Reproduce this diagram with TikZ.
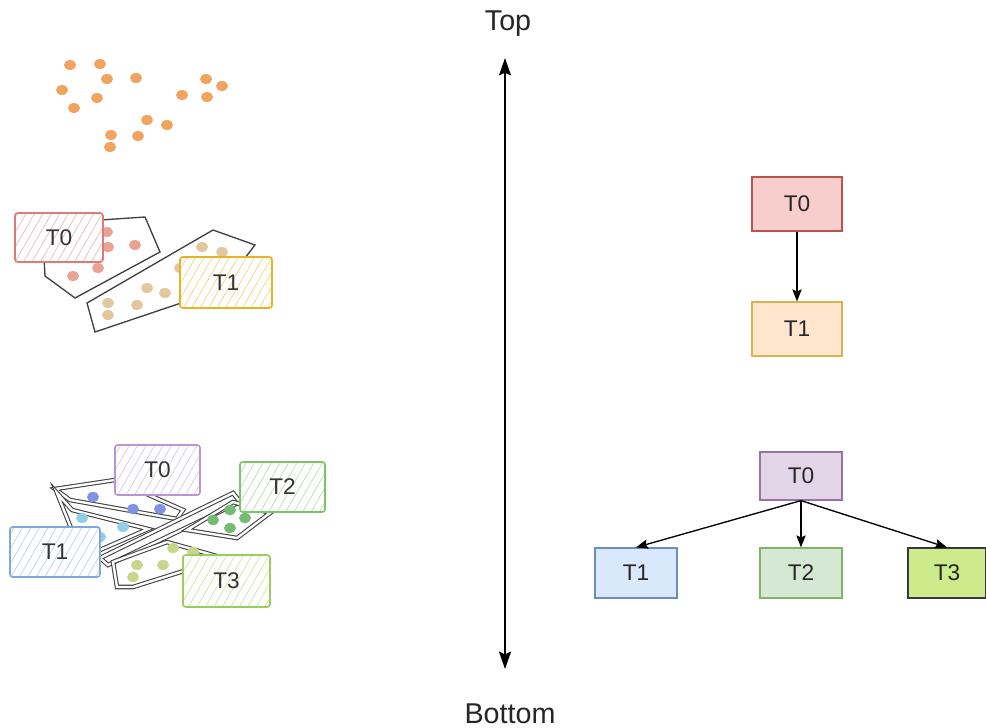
\documentclass[tikz,border=0pt]{standalone}
\usepackage{fontspec}
\setmainfont{Liberation Sans}
\usetikzlibrary{arrows.meta,patterns.meta}

% flat boxes
\definecolor{redF}{HTML}{F8CECC}\definecolor{redD}{HTML}{B85450}
\definecolor{orgF}{HTML}{FFE6CC}\definecolor{orgD}{HTML}{DDB050}
\definecolor{purF}{HTML}{E1D5E7}\definecolor{purD}{HTML}{9673A6}
\definecolor{bluF}{HTML}{DAE8FC}\definecolor{bluD}{HTML}{6C8EBF}
\definecolor{grnF}{HTML}{D5E8D4}\definecolor{grnD}{HTML}{82B366}
\definecolor{limF}{HTML}{CDEB8B}\definecolor{limD}{HTML}{36393D}
% sketch boxes and dots
\definecolor{dotO}{HTML}{F2A45F}
\definecolor{skR}{HTML}{E07A7A}\definecolor{hR}{HTML}{F2B5B0}\definecolor{dR}{HTML}{EAA393}
\definecolor{skY}{HTML}{E8B225}\definecolor{hY}{HTML}{F3D27A}\definecolor{dY}{HTML}{E3C79E}
\definecolor{skP}{HTML}{B995D6}\definecolor{hP}{HTML}{D9C3EC}\definecolor{dB}{HTML}{8092E3}
\definecolor{skG}{HTML}{7CC46C}\definecolor{hG}{HTML}{B7E0AA}\definecolor{dG}{HTML}{74BB74}
\definecolor{skB}{HTML}{7FA7E0}\definecolor{hB}{HTML}{BBD0F0}\definecolor{dC}{HTML}{90CFE6}
\definecolor{skL}{HTML}{9CCC5A}\definecolor{hL}{HTML}{CBE6A2}\definecolor{dL}{HTML}{C6D78B}

\tikzset{
  flat/.style={draw=#1D, fill=#1F, line width=0.9pt, minimum width=67.5pt,
    minimum height=40.5pt, inner sep=0pt, font=\fontsize{17}{20}\selectfont, text=black!85},
  sketch/.style n args={2}{draw=#1, line width=1.2pt, rounded corners=2pt,
    preaction={fill=white},
    pattern={Lines[angle=60,distance=5.5pt,line width=0.5pt]}, pattern color=#2,
    inner sep=0pt, font=\fontsize{17}{20}\selectfont, text=black!80},
  region/.style={draw=black!75, line width=1pt},
  dregion/.style={draw=black!75, line width=0.8pt, double=white, double distance=1.8pt},
  link/.style={-{Stealth[length=9pt,width=7pt,inset=1.5pt]}, line width=1pt, black},
}

\begin{document}
\begin{tikzpicture}[x=0.75pt,y=-0.75pt]
\useasboundingbox (0,0) rectangle (986,728);

% ---- raw points ----
\foreach \px/\py in {70/65,100/64,107/79,136/78,62/90,97/98,74/108,206/79,222/86,
    182/95,207/97,147/120,167/125,111/135,138/136,110/147}
  \fill[dotO] (\px,\py) ellipse [x radius=6, y radius=5];

% ---- two clusters ----
\draw[region] (43,238) -- (45,276) -- (75,298) -- (160,252) -- (145,217) -- (100,220) -- (90,222);
\draw[region] (87,303) -- (213,230) -- (255,245) -- (245,258) -- (190,300) -- (95,332) -- cycle;
\foreach \px/\py in {107/232,108/247,135/245,98/268,73/276}
  \fill[dR] (\px,\py) ellipse [x radius=6, y radius=5];
\foreach \px/\py in {108/303,108/315,137/305,147/288,165/293,202/247,222/252,180/268}
  \fill[dY] (\px,\py) ellipse [x radius=6, y radius=5];
\node[sketch={skR}{hR}, minimum width=66pt, minimum height=36.75pt] (c0) at (59,237.5) {T0};
\node[sketch={skY}{hY}, minimum width=69pt, minimum height=38.25pt] (c1) at (226,282.5) {T1};

% ---- four clusters ----
\draw[dregion] (55,489) -- (115,480) -- (183,510) -- (177,519) -- (70,500) -- cycle;
\draw[dregion] (57,493) -- (72,510) -- (148,529) -- (100,550) -- (77,543) -- cycle;
\draw[dregion] (100,558) -- (233,493) -- (240,502) -- (108,565) -- cycle;
\draw[dregion] (187,530) -- (233,502) -- (270,513) -- (237,538) -- cycle;
\draw[dregion] (113,562) -- (167,542) -- (213,555) -- (187,570) -- (133,587) -- (117,587) -- cycle;
\foreach \px/\py in {93/497,133/509,160/509}
  \fill[dB] (\px,\py) ellipse [x radius=6, y radius=5];
\foreach \px/\py in {82/518,123/527,100/537}
  \fill[dC] (\px,\py) ellipse [x radius=6, y radius=5];
\foreach \px/\py in {213/520,230/510,230/528,245/518}
  \fill[dG] (\px,\py) ellipse [x radius=6, y radius=5];
\foreach \px/\py in {137/565,163/565,173/548,133/577,193/552}
  \fill[dL] (\px,\py) ellipse [x radius=6, y radius=5];
\node[sketch={skP}{hP}, minimum width=63.75pt, minimum height=37.5pt] (k0) at (157.5,470) {T0};
\node[sketch={skG}{hG}, minimum width=63.75pt, minimum height=37.5pt] (k2) at (282.5,487) {T2};
\node[sketch={skB}{hB}, minimum width=67.5pt, minimum height=37.5pt] (k1) at (55,552) {T1};
\node[sketch={skL}{hL}, minimum width=65.25pt, minimum height=39pt] (k3) at (226.5,581) {T3};

% ---- axis ----
\node[font=\fontsize{21.5}{24}\selectfont, text=black!85] (top) at (508,24) {Top};
\node[font=\fontsize{21.5}{24}\selectfont, text=black!85] (bot) at (510,714) {Bottom};
\coordinate (ax1) at (505,58);
\coordinate (ax2) at (505,669);
\draw[{Stealth[length=13pt,width=9pt,inset=2pt]}-{Stealth[length=13pt,width=9pt,inset=2pt]},
      line width=1.3pt] (ax1) -- (ax2);

% ---- chain ----
\node[flat=red] (a0) at (797,204) {T0};
\node[flat=org] (a1) at (797,329) {T1};
\draw[link] (a0) -- (a1);

% ---- tree ----
\node[flat=pur, minimum width=61.5pt, minimum height=36pt] (b0) at (801,476) {T0};
\node[flat=blu, minimum width=61.5pt, minimum height=37.5pt] (b1) at (636,573) {T1};
\node[flat=grn, minimum width=61.5pt, minimum height=37.5pt] (b2) at (801,573) {T2};
\node[flat=lim, minimum width=58.5pt, minimum height=37.5pt] (b3) at (947,573) {T3};
\draw[link] (b0.south) -- (b1.north);
\draw[link] (b0.south) -- (b2.north);
\draw[link] (b0.south) -- (b3.north);
\end{tikzpicture}
\end{document}
